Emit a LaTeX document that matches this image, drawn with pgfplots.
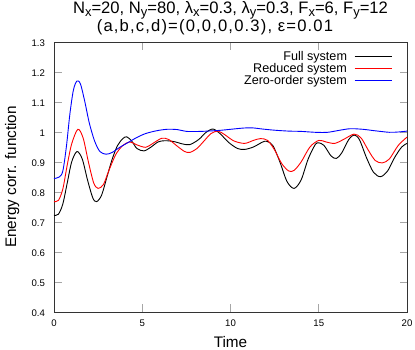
\documentclass[border=0pt]{standalone}
\usepackage{fontspec}
\setmainfont{Liberation Sans}
\usepackage{pgfplots}
\pgfplotsset{compat=1.18}
\newcommand\sub[1]{\raisebox{-2.5pt}{\fontsize{13}{13}\selectfont #1}}
\newcommand\legline[1]{\hspace{7.5pt}\textcolor{#1}{\rule[3.6pt]{37pt}{0.9pt}}}
\begin{document}
\begin{tikzpicture}
\useasboundingbox (-54pt,-38pt) rectangle (361pt,312pt);
\begin{axis}[
  scale only axis, width=353pt, height=270pt,
  xmin=0, xmax=20, ymin=0.4, ymax=1.3,
  xtick={0,5,10,15,20}, ytick={0.4,0.5,...,1.3},
  /pgf/number format/assume math mode=true,
  yticklabel style={/pgf/number format/fixed, /pgf/number format/precision=1, font=\fontsize{9.6}{11}\selectfont, xshift=-5.5pt, yshift=-1.5pt},
  xticklabel style={font=\fontsize{9.6}{11}\selectfont, yshift=-4pt},
  tick align=inside, major tick length=7.5pt,
  major tick style={gray!70, line width=0.9pt},
  axis line style={black!80, line width=0.6pt},
  title={N\sub{x}=20, N\sub{y}=80, λ\sub{x}=0.3, λ\sub{y}=0.3, F\sub{x}=6, F\sub{y}=12\\{\addfontfeatures{LetterSpace=7}(a,b,c,d)=(0,0,0,0.3), ε=0.01}\hspace*{31pt}},
  title style={at={(axis description cs:0.5,1)}, anchor=south, inner sep=0pt, yshift=0.5pt, align=center, font=\fontsize{16.6}{16}\selectfont},
  xlabel={Time}, ylabel={Energy corr. function},
  xlabel style={at={(axis description cs:0.5,0)}, anchor=base, yshift=-36pt, font=\fontsize{15.3}{16}\selectfont},
  ylabel style={at={(axis description cs:-0.1076,0.5)}, anchor=base, font=\fontsize{15.3}{16}\selectfont},
  legend style={at={(axis description cs:0.9567,0.967)}, anchor=north east, draw=none, fill=none, inner sep=0pt, nodes={inner sep=0pt, text height=9.2pt, text depth=2.4pt}, font=\fontsize{12.6}{13}\selectfont, row sep=0.7pt},
  legend cell align=right, legend plot pos=none,
]
\addplot[black, line width=0.9pt, smooth, tension=0.5] coordinates {
(0,0.722) (0.25,0.726) (0.5,0.76) (0.75,0.83) (1.0,0.9) (1.3,0.935) (1.6,0.91) (1.9,0.84) (2.2,0.78) (2.42,0.768) (2.7,0.79) (3.0,0.85) (3.3,0.91) (3.6,0.955) (3.9,0.978) (4.12,0.984) (4.4,0.97) (4.7,0.945) (5.1,0.937) (5.5,0.95) (5.9,0.967) (6.3,0.971) (6.8,0.968) (7.3,0.96) (7.7,0.958) (8.2,0.975) (8.6,0.998) (9.0,1.01) (9.4,0.995) (9.9,0.965) (10.4,0.945) (10.8,0.942) (11.3,0.95) (11.8,0.966) (12.05,0.969) (12.4,0.955) (12.8,0.9) (13.2,0.835) (13.6,0.812) (14.0,0.84) (14.4,0.91) (14.8,0.958) (15.0,0.964) (15.3,0.955) (15.7,0.92) (16.0,0.912) (16.3,0.93) (16.7,0.975) (17.0,0.99) (17.3,0.975) (17.7,0.915) (18.1,0.866) (18.5,0.851) (18.9,0.87) (19.3,0.915) (19.7,0.95) (20,0.962)};
\addlegendentry{Full system\legline{black}}
\addplot[red, line width=0.9pt, smooth, tension=0.5] coordinates {
(0,0.768) (0.25,0.772) (0.5,0.81) (0.75,0.89) (1.0,0.96) (1.35,1.009) (1.65,0.98) (1.95,0.9) (2.25,0.83) (2.5,0.812) (2.8,0.825) (3.1,0.87) (3.5,0.925) (3.9,0.955) (4.3,0.967) (4.7,0.957) (5.2,0.949) (5.6,0.962) (6.1,0.979) (6.5,0.975) (7.0,0.952) (7.4,0.935) (7.7,0.932) (8.1,0.945) (8.5,0.97) (8.9,0.995) (9.3,1.003) (9.7,0.99) (10.2,0.97) (10.8,0.962) (11.3,0.972) (11.7,0.978) (12.1,0.972) (12.5,0.94) (12.9,0.895) (13.3,0.87) (13.6,0.872) (14.0,0.9) (14.5,0.95) (15.0,0.972) (15.4,0.967) (15.9,0.962) (16.4,0.975) (17.0,0.993) (17.4,0.98) (17.8,0.94) (18.2,0.905) (18.6,0.897) (19.0,0.91) (19.5,0.955) (20,0.983)};
\addlegendentry{Reduced system\legline{red}}
\addplot[blue, line width=0.9pt, smooth, tension=0.5] coordinates {
(0,0.845) (0.3,0.85) (0.5,0.87) (0.7,0.95) (0.9,1.06) (1.1,1.14) (1.3,1.17) (1.5,1.16) (1.75,1.1) (2.0,1.03) (2.3,0.97) (2.6,0.935) (2.95,0.926) (3.3,0.932) (3.7,0.948) (4.2,0.965) (4.7,0.982) (5.2,0.995) (5.8,1.004) (6.4,1.009) (7.0,1.008) (7.5,1.002) (8.3,1.002) (9.0,1.004) (9.5,1.006) (10.0,1.009) (10.7,1.013) (11.2,1.014) (11.8,1.01) (12.5,1.006) (13.3,1.003) (14.0,1.002) (14.8,0.999) (15.5,0.999) (16.2,1.006) (16.8,1.011) (17.5,1.009) (18.2,1.004) (19.0,0.999) (19.5,1.0) (20,1.003)};
\addlegendentry{Zero-order system\legline{blue}}
\end{axis}
\end{tikzpicture}
\end{document}
